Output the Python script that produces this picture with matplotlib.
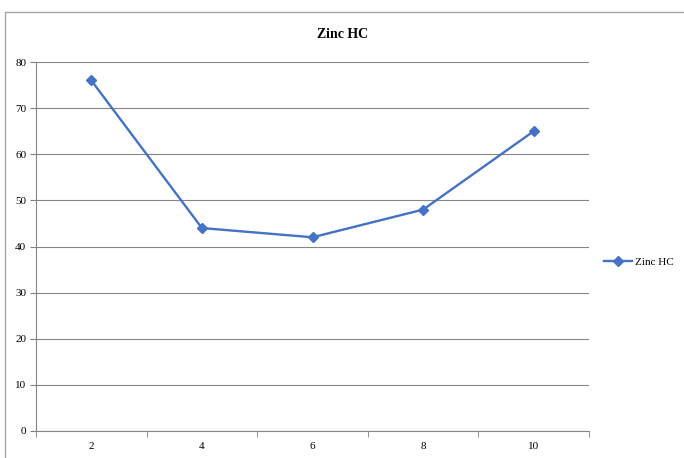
import matplotlib
matplotlib.use("Agg")
import matplotlib.pyplot as plt
from matplotlib.patches import Rectangle

categories = ["2", "4", "6", "8", "10"]
zinc_hc = [76, 44, 42, 48, 65]
y_ticks = [0, 10, 20, 30, 40, 50, 60, 70, 80]

plt.rcParams["font.family"] = ["Liberation Serif", "DejaVu Serif"]

W, H = 684, 458
fig = plt.figure(figsize=(W / 100, H / 100), dpi=100)

# Marco exterior del gráfico
fig.patches.append(Rectangle((5 / W, -0.01), 1.0, 1 - 12 / H + 0.01, transform=fig.transFigure,
                             fill=False, edgecolor="#a6a6a6", linewidth=1.0))

ax = fig.add_axes([36 / W, 1 - 431 / H, (589 - 36) / W, (431 - 62) / H])

x = list(range(1, len(categories) + 1))
ax.plot(x, zinc_hc, color="#4472C4", linewidth=1.7, marker="D", markersize=5,
        label="Zinc HC")

ax.set_xlim(0.5, len(categories) + 0.5)
ax.set_ylim(0, 80)
ax.set_yticks(y_ticks)
ax.set_xticks(x)
ax.set_xticklabels(categories)
ax.set_xticks([i + 0.5 for i in range(len(categories) + 1)], minor=True)
ax.tick_params(axis="x", which="major", length=0, pad=8, labelsize=8)
ax.tick_params(axis="x", which="minor", length=4, color="#808080", direction="out")
ax.tick_params(axis="y", length=4, color="#808080", labelsize=8, pad=3)

ax.grid(axis="y", color="#868686", linewidth=0.8)
ax.set_axisbelow(True)
for side in ["top", "right"]:
    ax.spines[side].set_visible(False)
for side in ["left", "bottom"]:
    ax.spines[side].set_color("#868686")
    ax.spines[side].set_linewidth(0.8)

fig.text(343 / W, 1 - 35 / H, "Zinc HC", ha="center", va="center",
         fontsize=10, fontweight="bold")

ax.legend(loc="center left", bbox_to_anchor=(594 / W, 1 - 262 / H),
          bbox_transform=fig.transFigure, frameon=False, fontsize=8,
          handlelength=2.5, handletextpad=0.3)

fig.savefig("out.png", dpi=100)
